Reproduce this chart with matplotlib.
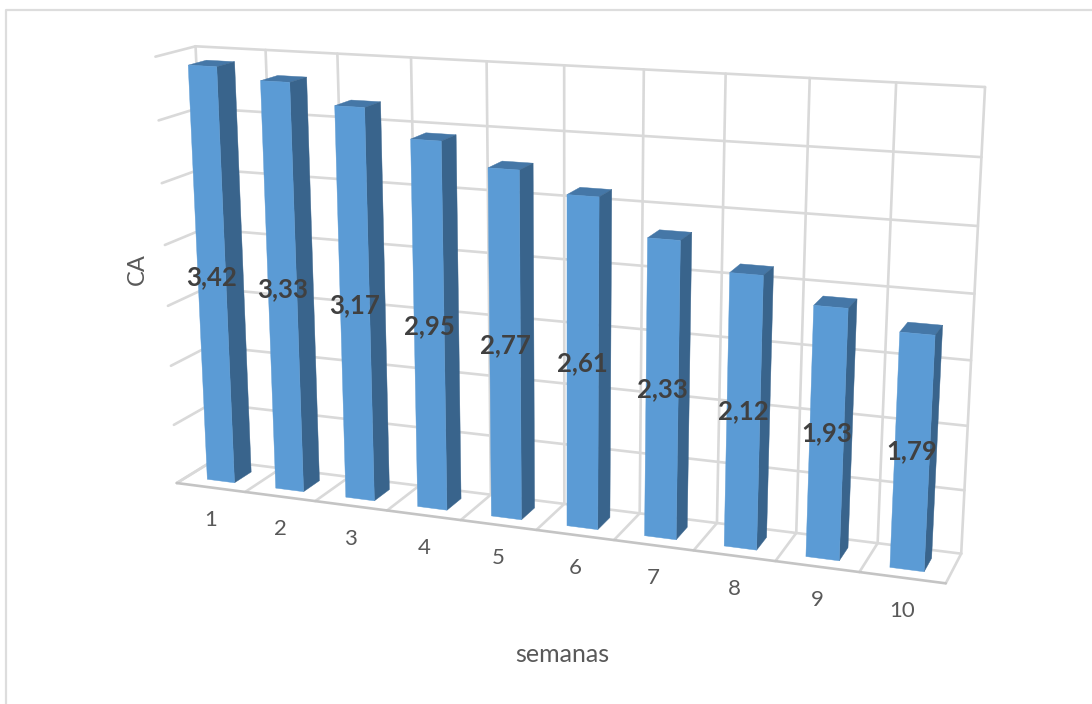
# grafico de barras 3D estilo Excel: CA por semana
import numpy as np
import matplotlib
matplotlib.use("Agg")
import matplotlib.pyplot as plt

semanas = ["1", "2", "3", "4", "5", "6", "7", "8", "9", "10"]
ca = [3.42, 3.33, 3.17, 2.95, 2.77, 2.61, 2.33, 2.12, 1.93, 1.79]
ca_labels = ["3,42", "3,33", "3,17", "2,95", "2,77", "2,61", "2,33", "2,12", "1,93", "1,79"]
y_ticks = [0, 0.5, 1, 1.5, 2, 2.5, 3, 3.5]
y_max = 3.5

plt.rcParams["font.family"] = ["Lato", "DejaVu Sans"]

# cantos da caixa 3D (categoria, valor, profundidade) -> pixel
n = len(semanas)
box_3d = [(0, 0, 0), (n, 0, 0), (n, 0, 1), (0, 0, 1), (0, y_max, 1), (n, y_max, 1), (0, y_max, 0)]
box_px = [(177, 483), (946, 583), (961, 554), (214, 460), (196, 46), (985, 87), (155, 57)]

# camera projetiva ajustada nos cantos
A = []
b = []
for (x, y, z), (u, v) in zip(box_3d, box_px):
    A.append([x, y, z, 1, 0, 0, 0, 0, -u * x, -u * y, -u * z])
    A.append([0, 0, 0, 0, x, y, z, 1, -v * x, -v * y, -v * z])
    b += [u, v]
cam = np.linalg.lstsq(np.array(A, float), np.array(b, float), rcond=None)[0]
cam = np.append(cam, 1).reshape(3, 4)


def proj(x, y, z):
    p = cam @ np.array([x, y, z, 1.0])
    return p[0] / p[2], p[1] / p[2]


def line3d(ax, a, b, color="#D9D9D9", lw=1.9, zorder=1):
    p, q = proj(*a), proj(*b)
    ax.plot([p[0], q[0]], [p[1], q[1]], color=color, lw=lw, zorder=zorder,
            solid_capstyle="round")


def face(ax, pts, color, zorder):
    xy = [proj(*p) for p in pts]
    ax.fill([c[0] for c in xy], [c[1] for c in xy], color=color, lw=0.3, zorder=zorder)


fig = plt.figure(figsize=(10.92, 7.04), dpi=100)
ax = fig.add_axes([0, 0, 1, 1])
ax.set_xlim(0, 1092)
ax.set_ylim(704, 0)
ax.axis("off")

# moldura do grafico
ax.plot([6, 6, 1092], [704, 10, 10], color="#DDDDDD", lw=1.6, zorder=0)

# grade: parede do fundo e parede esquerda
for v in y_ticks:
    line3d(ax, (0, v, 1), (n, v, 1))
    line3d(ax, (0, v, 0), (0, v, 1))
for i in range(n + 1):
    line3d(ax, (i, 0, 1), (i, y_max, 1))
    line3d(ax, (i, 0, 0), (i, 0, 1))
line3d(ax, (0, 0, 0), (n, 0, 0), color="#C4C4C4")

# barras
bar_w = 0.4
z0, z1 = 0.27, 0.73
for i, v in enumerate(ca):
    x0 = i + 0.5 - bar_w / 2
    x1 = i + 0.5 + bar_w / 2
    face(ax, [(x0, v, z0), (x1, v, z0), (x1, v, z1), (x0, v, z1)], "#4577A7", 3)
    face(ax, [(x1, 0, z0), (x1, v, z0), (x1, v, z1), (x1, 0, z1)], "#39648C", 3)
    face(ax, [(x0, 0, z0), (x1, 0, z0), (x1, v, z0), (x0, v, z0)], "#5B9BD5", 4)

# rotulos de valor na metade de cada barra
for i, v in enumerate(ca):
    px, py = proj(i + 0.5, v / 2, z0)
    ax.text(px, py - 2, ca_labels[i], fontsize=18.5, fontweight="bold", color="#404040",
            ha="center", va="center", zorder=5)

# categorias abaixo do piso
for i, s in enumerate(semanas):
    px, py = proj(i + 0.5, 0, 0)
    ax.text(px, py + 33, s, fontsize=16, color="#595959", ha="center", va="center", zorder=5)

ax.text(137, 269, "CA", fontsize=17, color="#595959", rotation=90, ha="center", va="center")
ax.text(562, 654, "semanas", fontsize=18, color="#595959", ha="center", va="center")

fig.savefig("out.png", dpi=100, facecolor="white")
